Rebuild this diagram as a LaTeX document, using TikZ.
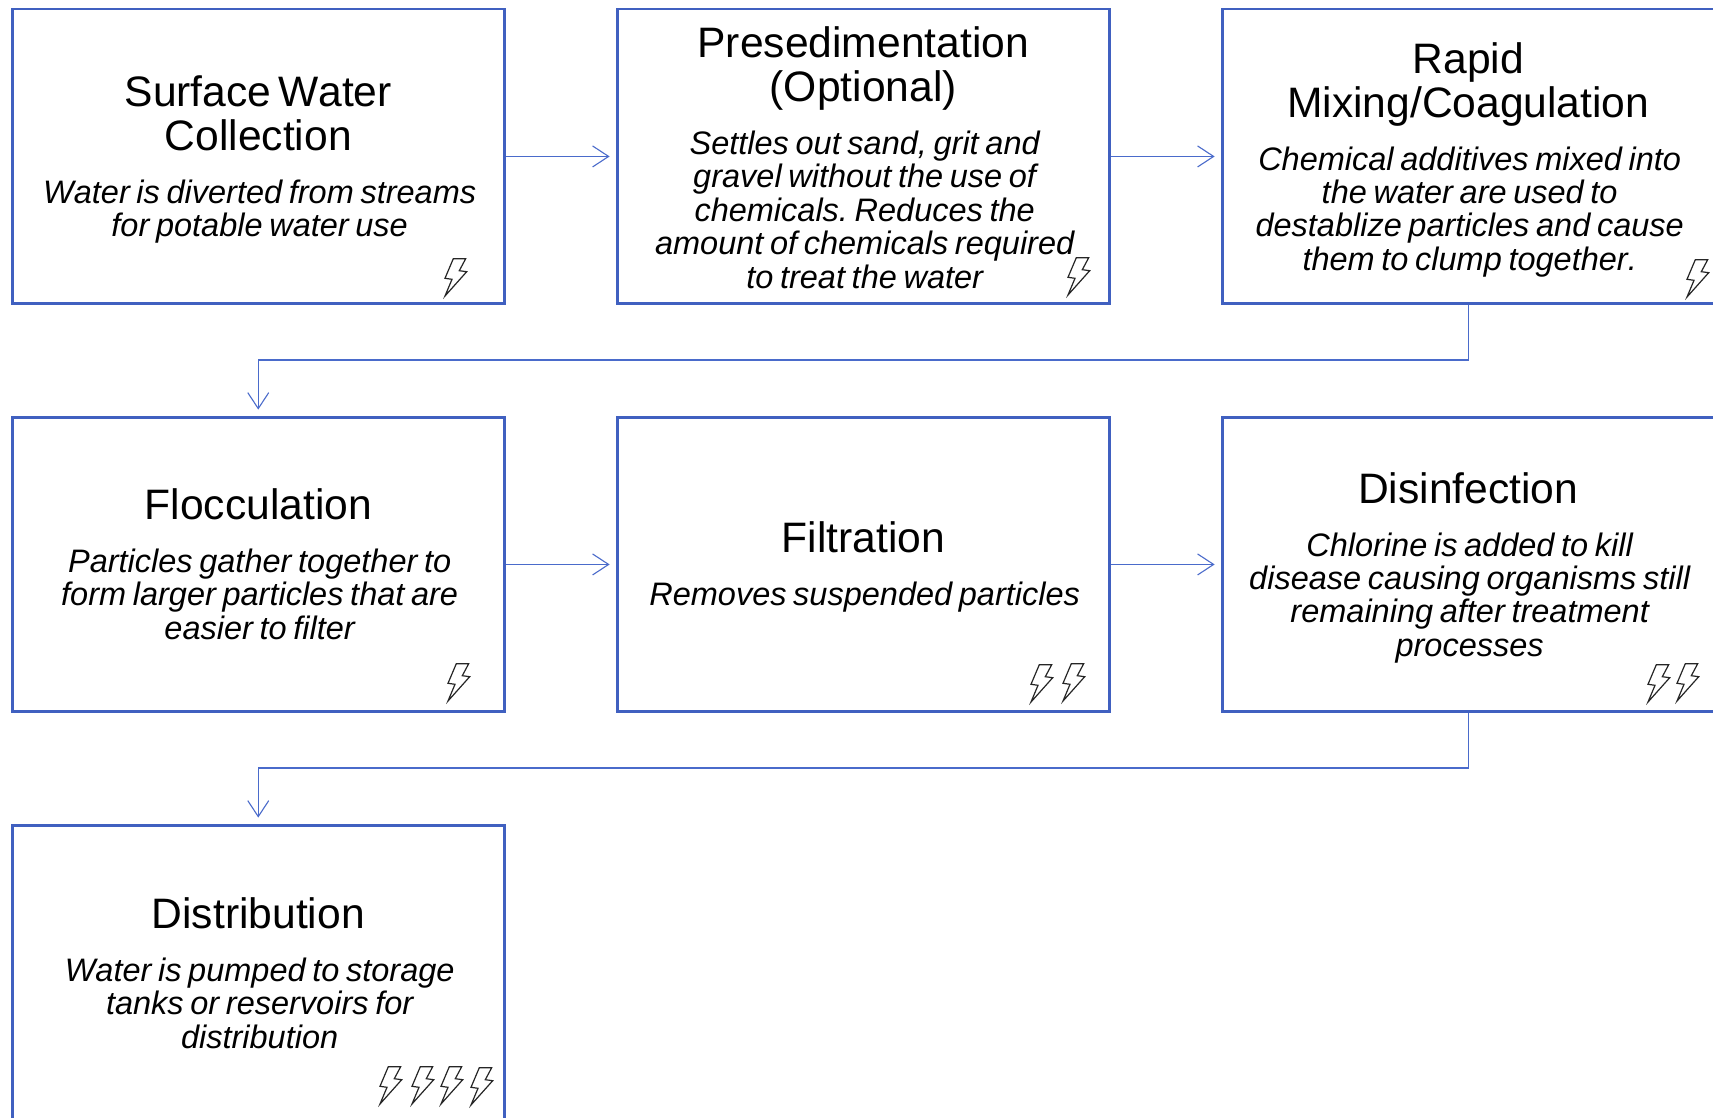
\documentclass[tikz,border=0pt]{standalone}
\usepackage{fontspec}
\setmainfont[Kerning=Off]{Liberation Sans}
\usetikzlibrary{arrows.meta}
\definecolor{boxblue}{HTML}{4060C0}
\definecolor{linkblue}{HTML}{4A6BCB}
\newcommand{\stagetext}[3][3.3pt]{\vbox{\hsize=240pt\centering\frenchspacing\kern#1\relax
  {\fontsize{21.3}{22}\selectfont\rule{0pt}{16pt}#2\par}\vskip-\prevdepth\nointerlineskip\vskip11.5pt
  \moveright0.7pt\vbox{\hsize=240pt\centering\fontsize{16.25}{16.7}\selectfont\itshape\rule{0pt}{15pt}#3\rule[-4pt]{0pt}{4pt}\par}}}
\tikzset{
  stagebox/.style={draw=boxblue,line width=1.25pt,fill=none,anchor=north west,
    minimum width=246pt,minimum height=147.2pt,inner sep=0pt,text width=240pt,align=center,text=black},
  link/.style={draw=linkblue,line width=0.55pt,shorten >=3.2pt,-{Straight Barb[length=8pt,width=10.5pt,line width=0.55pt]}},
  boltline/.style={draw=black!85,line width=0.6pt,line join=miter},
  bolt/.pic={\draw[boltline] (0,0)--(7,-16.7)--(0,-17.7)--(8.3,-37.3)--(20.7,-37.3)--(14.3,-25.3)--(21.7,-24.3)--cycle;}
}
\begin{document}
\begin{tikzpicture}[x=0.5pt,y=-0.5pt]
\useasboundingbox (0,0) rectangle (1713,1118);
\fill[white] (0,0) rectangle (1713,1118);
\node[stagebox] (a) at (11,8) {\stagetext{Surface Water\\Collection}{Water is diverted from streams\\for potable water use}};
\node[stagebox] (b) at (616,8) {\stagetext[4.4pt]{Presedimentation\\(Optional)}{Settles out sand, grit and\\gravel without the use of\\chemicals. Reduces the\\amount of chemicals required\\to treat the water}};
\node[stagebox] (c) at (1221,8) {\stagetext{Rapid\\Mixing/Coagulation}{Chemical additives mixed into\\the water are used to\\destablize particles and cause\\them to clump together.}};
\node[stagebox] (d) at (11,416) {\stagetext[2.7pt]{Flocculation}{Particles gather together to\\form larger particles that are\\easier to filter}};
\node[stagebox] (e) at (616,416) {\stagetext[2.7pt]{Filtration}{Removes suspended particles}};
\node[stagebox] (f) at (1221,416) {\stagetext{Disinfection}{Chlorine is added to kill\\disease causing organisms still\\remaining after treatment\\processes}};
\node[stagebox] (g) at (11,824) {\stagetext[3.8pt]{Distribution}{Water is pumped to storage\\tanks or reservoirs for\\distribution}};
\coordinate (cd) at (860,360);
\coordinate (fg) at (860,768);
\draw[link] (a.east) -- (b.west);
\draw[link] (b.east) -- (c.west);
\draw[link] (c.south) |- (cd) -| (d.north);
\draw[link] (d.east) -- (e.west);
\draw[link] (e.east) -- (f.west);
\draw[link] (f.south) |- (fg) -| (g.north);
\foreach \px/\py in {445/296,1068/295,1687/297,448/701,1031/702,1063/701,1648/702,1677/701,380/1104,412/1104,441/1104,471/1105}
  \pic at (\px,\py) {bolt};
\end{tikzpicture}
\end{document}
